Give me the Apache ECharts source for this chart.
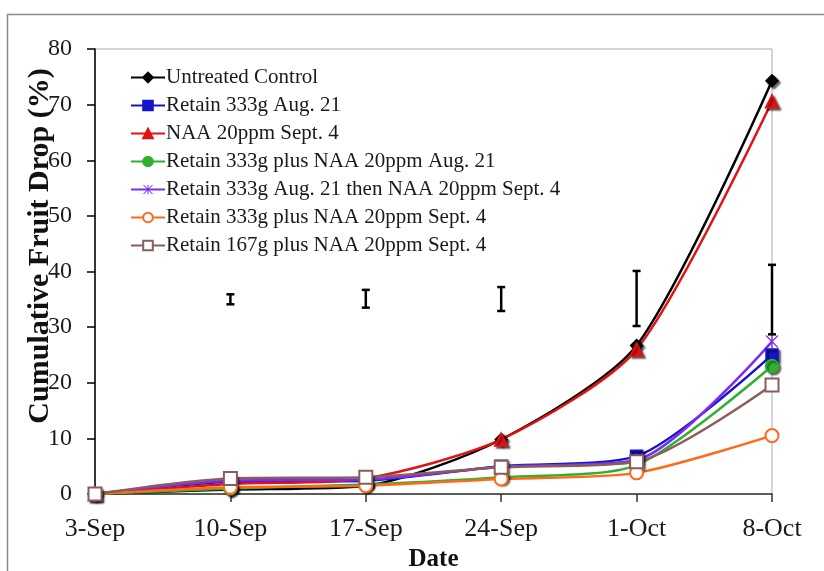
<!DOCTYPE html>
<html>
<head>
<meta charset="utf-8">
<script src="https://cdn.jsdelivr.net/npm/echarts@6/dist/echarts.min.js"></script>
<style>
  html, body { margin: 0; padding: 0; background: #fff; }
  #chart { width: 824px; height: 571px; }
</style>
</head>
<body>
<div id="chart"></div>
<script>
const dates = ["3-Sep", "10-Sep", "17-Sep", "24-Sep", "1-Oct", "8-Oct"];

const untreated = [0, 0.8, 1.5, 9.8, 26.7, 74.3];
const retainAug21 = [0, 2.2, 2.4, 5.0, 6.8, 25.0];
const naaSept4 = [0, 1.8, 2.8, 9.8, 26.0, 70.6];
const retainNaaAug21 = [0, 1.0, 1.7, 3.0, 5.2, 23.0];
const retainThenNaa = [0, 2.4, 2.6, 4.9, 6.1, 27.4];
const retain333NaaSept4 = [0, 1.2, 1.5, 2.7, 3.8, 10.5];
const retain167NaaSept4 = [0, 2.8, 3.0, 4.8, 5.8, 19.6];

// LSD bars: [date index, low, high]
const errorBars = [
  [1, 34.1, 35.9],
  [2, 33.5, 36.7],
  [3, 32.9, 37.2],
  [4, 30.2, 40.1],
  [5, 28.7, 41.2]
];

const serif = "'Liberation Serif', 'Times New Roman', serif";
const shadow = { shadowColor: "rgba(0,0,0,0.6)", shadowOffsetX: 2, shadowOffsetY: 2, shadowBlur: 2 };

// Excel style "star" marker (X with vertical stroke)
const starPath = "path://M4.5 0 L5.5 0 L5.5 10 L4.5 10 Z M0 0.7 L0.7 0 L10 9.3 L9.3 10 Z M0.7 10 L0 9.3 L9.3 0 L10 0.7 Z";

const lineSeries = [
  { name: "Untreated Control", data: untreated, color: "#000000", symbol: "diamond", size: 12, filled: true },
  { name: "Retain 333g Aug. 21", data: retainAug21, color: "#1414c8", symbol: "rect", size: 12, filled: true },
  { name: "NAA 20ppm Sept. 4", data: naaSept4, color: "#e31212", symbol: "triangle", size: 13, filled: true },
  { name: "Retain 333g plus NAA 20ppm Aug. 21", data: retainNaaAug21, color: "#2fb02f", symbol: "circle", size: 13, filled: true },
  { name: "Retain 333g Aug. 21 then NAA 20ppm Sept. 4", data: retainThenNaa, color: "#7a2cf5", symbol: starPath, size: 13, filled: false },
  { name: "Retain 333g plus NAA 20ppm Sept. 4", data: retain333NaaSept4, color: "#ff6a1a", symbol: "emptyCircle", size: 13, filled: false },
  { name: "Retain 167g plus NAA 20ppm Sept. 4", data: retain167NaaSept4, color: "#8b5c5c", symbol: "emptyRect", size: 13, filled: false }
];

const chart = echarts.init(document.getElementById("chart"));

chart.setOption({
  animation: false,
  backgroundColor: "#fff",
  textStyle: { fontFamily: serif },
  graphic: [
    {
      type: "rect",
      shape: { x: 7.5, y: 14.5, width: 840, height: 600 },
      style: { fill: "none", stroke: "#8a8a8a", lineWidth: 1.5 },
      z: -10
    },
    {
      type: "text",
      x: 40,
      y: 246,
      rotation: Math.PI / 2,
      style: {
        text: "Cumulative Fruit Drop (%)",
        font: "bold 30px " + serif,
        fill: "#111",
        align: "center",
        verticalAlign: "middle"
      }
    }
  ],
  grid: {
    left: 95, right: 52, top: 49, bottom: 77,
    containLabel: false,
    outerBoundsMode: "none",
    show: true, borderColor: "#aaaaaa", borderWidth: 1
  },
  legend: {
    orient: "vertical",
    left: 125,
    top: 62,
    itemWidth: 34,
    itemHeight: 12,
    itemGap: 7,
    data: lineSeries.map(s => s.name),
    textStyle: { fontFamily: serif, fontSize: 21, color: "#1a1a1a", padding: [0, 0, 0, -4] }
  },
  xAxis: {
    type: "category",
    data: dates,
    boundaryGap: false,
    name: "Date",
    nameLocation: "middle",
    nameGap: 48,
    nameTextStyle: { fontFamily: serif, fontSize: 25, fontWeight: "bold", color: "#111" },
    axisLine: { lineStyle: { color: "#333", width: 1.5 } },
    axisTick: { show: true, length: 8, lineStyle: { color: "#333", width: 1.5 } },
    axisLabel: { fontFamily: serif, fontSize: 26, color: "#1a1a1a", margin: 22 },
    splitLine: { show: false }
  },
  yAxis: {
    type: "value",
    min: 0,
    max: 80,
    interval: 10,
    axisLine: { show: true, lineStyle: { color: "#000", width: 1.5 } },
    axisTick: { show: true, length: 8, lineStyle: { color: "#000", width: 1.5 } },
    axisLabel: { fontFamily: serif, fontSize: 24, color: "#1a1a1a", margin: 23 },
    splitLine: { show: false }
  },
  series: lineSeries.map(s => ({
    name: s.name,
    type: "line",
    data: s.data,
    smooth: 0.25,
    symbol: s.symbol,
    symbolSize: s.size,
    showAllSymbol: true,
    lineStyle: { color: s.color, width: 2.5 },
    itemStyle: Object.assign(
      { color: s.color, borderColor: s.color, borderWidth: s.symbol === starPath ? 0 : 1.5 },
      s.filled ? shadow : {}
    ),
    emphasis: { disabled: true }
  })).concat([
    {
      type: "custom",
      name: "LSD",
      data: errorBars,
      encode: { x: 0, y: [1, 2] },
      z: 10,
      renderItem: (params, api) => {
        const lo = api.coord([api.value(0), api.value(1)]);
        const hi = api.coord([api.value(0), api.value(2)]);
        const w = 4;
        const st = { stroke: "#000", lineWidth: 2.5 };
        return {
          type: "group",
          children: [
            { type: "line", shape: { x1: lo[0], y1: lo[1], x2: hi[0], y2: hi[1] }, style: st },
            { type: "line", shape: { x1: hi[0] - w, y1: hi[1], x2: hi[0] + w, y2: hi[1] }, style: st },
            { type: "line", shape: { x1: lo[0] - w, y1: lo[1], x2: lo[0] + w, y2: lo[1] }, style: st }
          ]
        };
      }
    }
  ])
});
</script>
</body>
</html>
